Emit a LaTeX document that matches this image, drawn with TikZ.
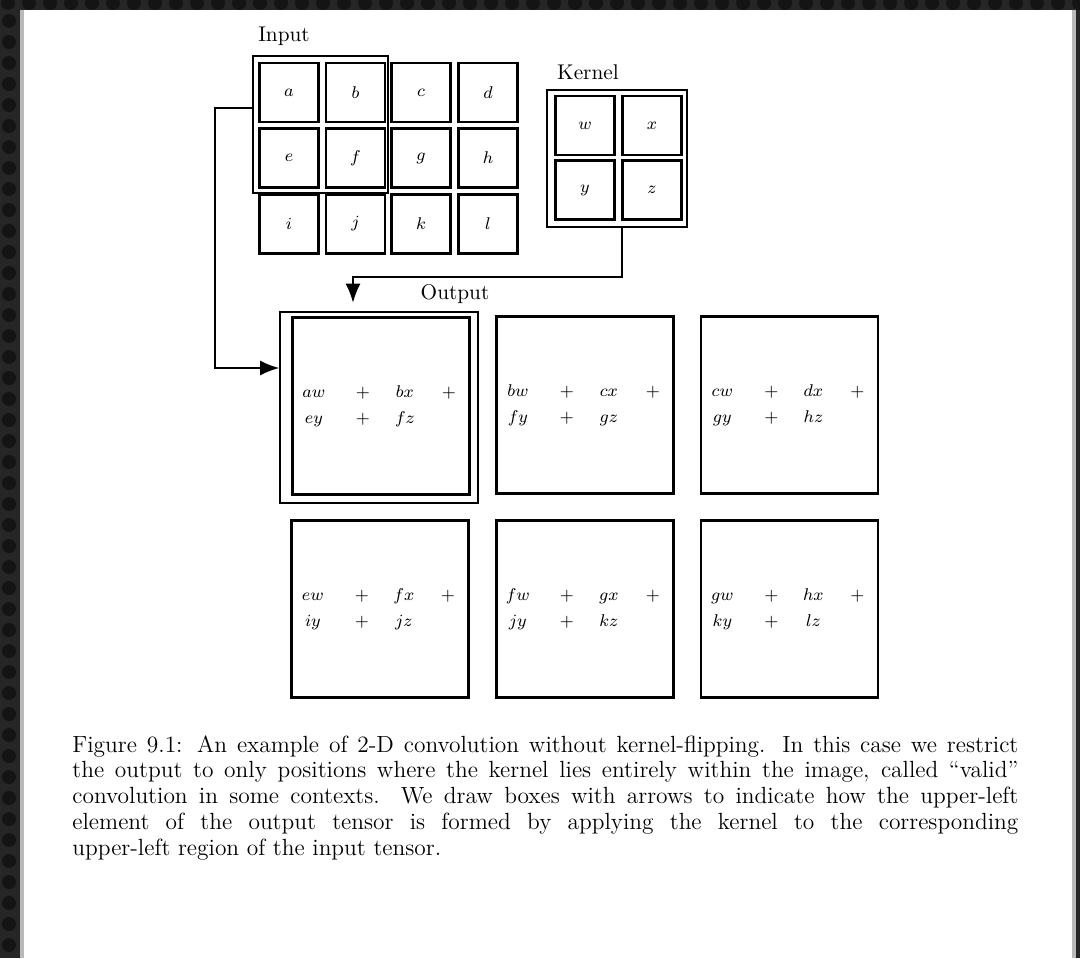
\documentclass[tikz,border=0pt]{standalone}
\usetikzlibrary{arrows.meta}
\definecolor{frame}{HTML}{262626}
\definecolor{framedot}{HTML}{141414}
\newcommand\trow[4]{\makebox[0pt]{$#1$}\hspace{23.03pt}\makebox[0pt]{$#2$}\hspace{19.74pt}\makebox[0pt]{$#3$}\hspace{20.68pt}\makebox[0pt]{$#4$}}
\begin{document}
\begin{tikzpicture}[x=0.47pt,y=-0.47pt,
  cell/.style={draw, line width=1.1pt, minimum width=59*0.47pt, minimum height=59*0.47pt, inner sep=0pt, font=\fontsize{8}{9}\selectfont},
  hlbox/.style={draw, line width=0.9pt, inner sep=0pt},
  obox/.style={draw, line width=1pt, minimum width=177*0.47pt, minimum height=177*0.47pt, inner sep=0pt},
  oterm/.style={anchor=west, inner sep=0pt, align=left, font=\fontsize{8}{12.2}\selectfont},
  lbl/.style={inner sep=0pt, font=\fontsize{10}{12}\selectfont},
  arr/.style={line width=0.9pt, -{Latex[length=9pt,width=7pt]}}]
\useasboundingbox (0,0) rectangle (1080,958);
% page frame
\fill[frame] (0,0) rectangle (1080,958);
\foreach \i in {0,...,52} {\fill[framedot] (\i*21+8,3) circle (7);}
\foreach \j in {1,...,46} {\fill[framedot] (9,\j*21) circle (7);}
\fill[gray!55] (20,10) rectangle (1076,958);
\fill[white] (24,10) rectangle (1072,958);
% input
\node[lbl] (inlbl) at (284,36) {Input};
\node[cell] (a) at (289,92.5) {$a$};
\node[cell] (b) at (355.5,92.5) {$b$};
\node[cell] (c) at (421,92.5) {$c$};
\node[cell] (d) at (488,92.5) {$d$};
\node[cell] (e) at (289,158) {$e$};
\node[cell] (f) at (355.5,158) {$f$};
\node[cell] (g) at (421,158) {$g$};
\node[cell] (h) at (488,158) {$h$};
\node[cell] (i) at (289,224) {$i$};
\node[cell] (j) at (355.5,224) {$j$};
\node[cell] (k) at (421,224) {$k$};
\node[cell] (l) at (488,224) {$l$};
\node[hlbox, minimum width=135*0.47pt, minimum height=137*0.47pt] (inhl) at (320.5,124.5) {};
% kernel
\node[lbl] (klbl) at (588,72) {Kernel};
\node[cell] (w) at (585,125.5) {$w$};
\node[cell] (x) at (652,125.5) {$x$};
\node[cell] (y) at (585,190) {$y$};
\node[cell] (z) at (652,190) {$z$};
\node[hlbox, minimum width=140*0.47pt, minimum height=137*0.47pt] (khl) at (617,158.5) {};
% output
\node[lbl] (olbl) at (455,294) {Output};
\node[obox] (o1) at (381,406) {};
\node[obox] (o2) at (585,405) {};
\node[obox] (o3) at (789.5,405) {};
\node[obox] (o4) at (380,609) {};
\node[obox] (o5) at (585,609) {};
\node[obox] (o6) at (789.5,609) {};
\node[hlbox, line width=0.6pt, minimum width=198*0.47pt, minimum height=191*0.47pt] (outhl) at (379,407.5) {};
\node[oterm] (t1) at ([xshift=22*0.47pt]o1.west) {\trow{aw}{+}{bx}{+}\\\trow{ey}{+}{fz}{}};
\node[oterm] (t2) at ([xshift=22*0.47pt]o2.west) {\trow{bw}{+}{cx}{+}\\\trow{fy}{+}{gz}{}};
\node[oterm] (t3) at ([xshift=22*0.47pt]o3.west) {\trow{cw}{+}{dx}{+}\\\trow{gy}{+}{hz}{}};
\node[oterm] (t4) at ([xshift=22*0.47pt]o4.west) {\trow{ew}{+}{fx}{+}\\\trow{iy}{+}{jz}{}};
\node[oterm] (t5) at ([xshift=22*0.47pt]o5.west) {\trow{fw}{+}{gx}{+}\\\trow{jy}{+}{kz}{}};
\node[oterm] (t6) at ([xshift=22*0.47pt]o6.west) {\trow{gw}{+}{hx}{+}\\\trow{ky}{+}{lz}{}};
% arrows
\draw[arr] (inhl.west |- 0,108) -- (215,108) |- (outhl.west |- 0,368);
\draw[arr, shorten >=4pt] (khl.south -| 622,0) |- (353,277) -- (outhl.north -| 353,0);
% caption
\node[anchor=north west, inner sep=0pt, align=left, font=\fontsize{11}{12.1}\selectfont] (caption) at (72,735) {%
\makebox[444.6pt][s]{Figure 9.1: An example of 2-D convolution without kernel-flipping. In this case we restrict}\\
\makebox[444.6pt][s]{the output to only positions where the kernel lies entirely within the image, called ``valid''}\\
\makebox[444.6pt][s]{convolution in some contexts. We draw boxes with arrows to indicate how the upper-left}\\
\makebox[444.6pt][s]{element of the output tensor is formed by applying the kernel to the corresponding}\\
upper-left region of the input tensor.};
\end{tikzpicture}
\end{document}
